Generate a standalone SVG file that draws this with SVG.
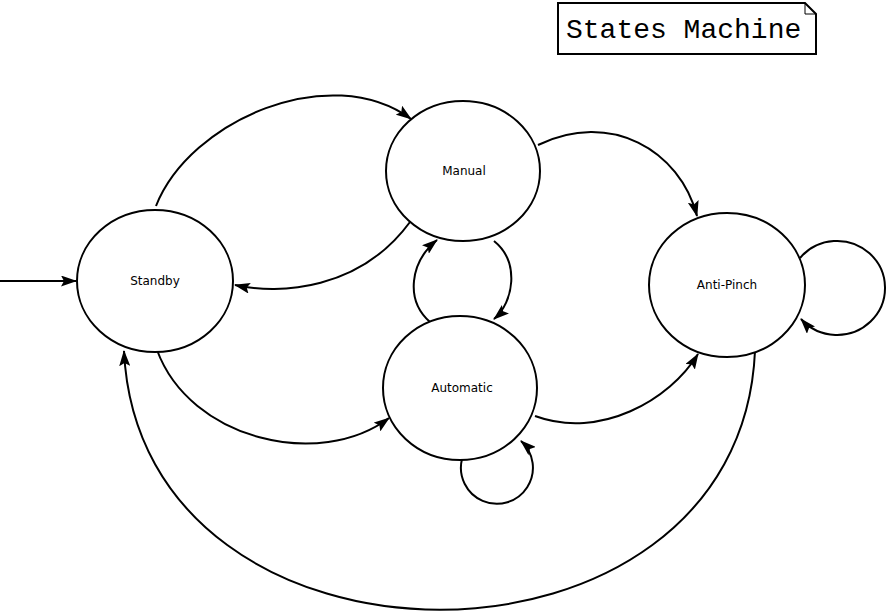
<svg xmlns="http://www.w3.org/2000/svg" width="891" height="614" viewBox="0 0 891 614">
<style>
.node{fill:#fff;stroke:#000;stroke-width:2}
.lbl{font-family:"DejaVu Sans","Liberation Sans",sans-serif;font-size:12px;fill:#000;text-anchor:middle}
.edge{fill:none;stroke:#000;stroke-width:2;marker-end:url(#ah)}
.title{font-family:"Liberation Mono",monospace;font-size:28px;fill:#000}
</style>
<defs>
<marker id="ah" viewBox="0 0 16 11" refX="15" refY="5.5" markerWidth="16" markerHeight="11" markerUnits="userSpaceOnUse" orient="auto">
<path d="M0,0 L16,5.5 L0,11 L3,5.5 Z" fill="#000"/>
</marker>
</defs>
<rect width="891" height="614" fill="#fff"/>
<g id="title">
<path d="M558,3 H805 L816,14 V54 H558 Z" fill="#fff" stroke="#000" stroke-width="2"/>
<path d="M805,3 V14 H816" fill="none" stroke="#000" stroke-width="1"/>
<text class="title" x="566" y="38">States Machine</text>
</g>
<g id="connectors">
<path class="edge" d="M0,281 L76,281"/>
<path class="edge" d="M156,206 C190,120 330,60 411,119"/>
<path class="edge" d="M410,222 C360,290 280,295 235,285"/>
<path class="edge" d="M538,145 C610,110 680,150 697,216"/>
<path class="edge" d="M430,322 C405,300 410,262 437,240"/>
<path class="edge" d="M494,241 C520,262 514,302 494,319"/>
<path class="edge" d="M157,350 C190,440 320,470 389,418"/>
<path class="edge" d="M535,416 C600,440 670,400 698,354"/>
<path class="edge" d="M755,351 C740,696 140,696 124,351"/>
<path class="edge" d="M462,459 A36,36 0 1 0 521,441"/>
<path class="edge" d="M800,258 A48,47 0 1 1 801,319"/>
</g>
<g id="standby">
<ellipse class="node" cx="155" cy="281" rx="78" ry="71"/>
<text class="lbl" x="155" y="285">Standby</text>
</g>
<g id="manual">
<ellipse class="node" cx="463" cy="171" rx="77" ry="70"/>
<text class="lbl" x="464" y="175">Manual</text>
</g>
<g id="automatic">
<ellipse class="node" cx="460" cy="388" rx="77" ry="72"/>
<text class="lbl" x="462" y="392">Automatic</text>
</g>
<g id="antipinch">
<ellipse class="node" cx="727" cy="285" rx="78" ry="72"/>
<text class="lbl" x="727" y="289">Anti-Pinch</text>
</g>
</svg>
